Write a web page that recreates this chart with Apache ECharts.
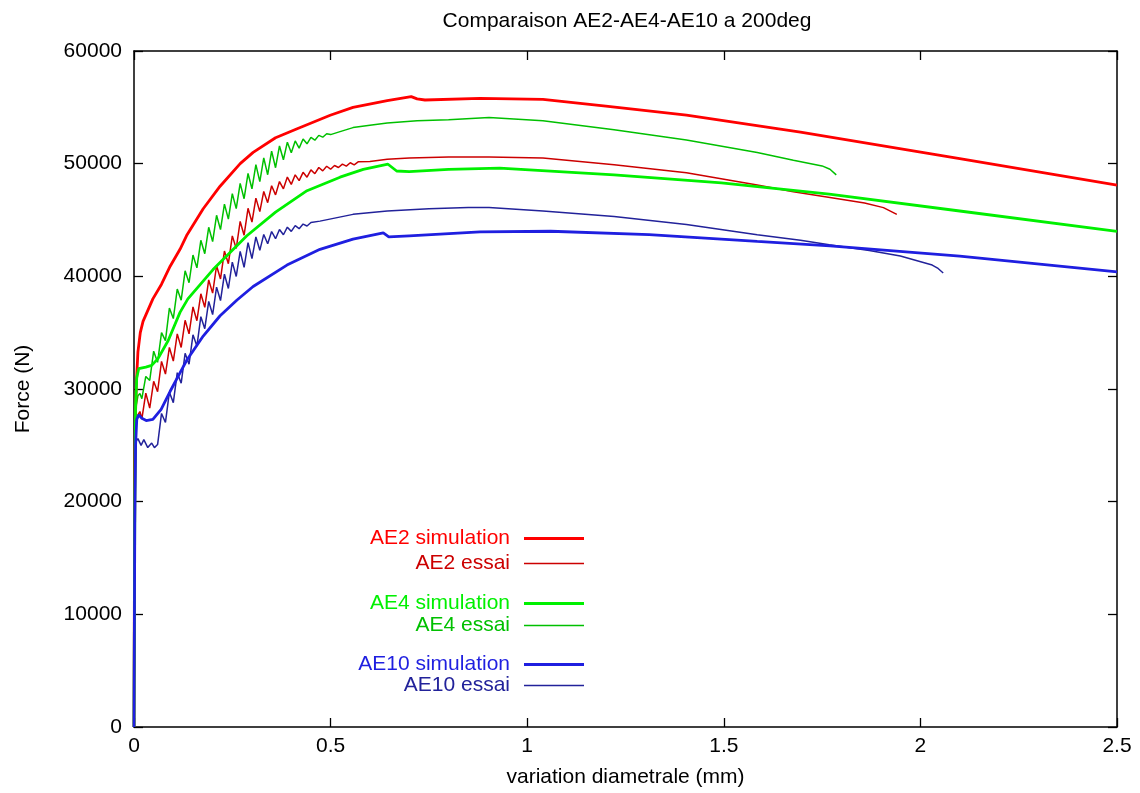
<!DOCTYPE html>
<html>
<head>
<meta charset="utf-8">
<script src="https://cdn.jsdelivr.net/npm/echarts@6/dist/echarts.min.js"></script>
<style>html,body{margin:0;padding:0;background:#fff;}#chart{width:1140px;height:793px;}</style>
</head>
<body>
<div id="chart"></div>
<script>
const titleText = 'Comparaison AE2-AE4-AE10 a 200deg';
const xName = 'variation diametrale (mm)';
const yName = 'Force (N)';
const seriesNames = ['AE2 simulation','AE2 essai','AE4 simulation','AE4 essai','AE10 simulation','AE10 essai'];
const seriesColors = ['#ff0000','#cc0000','#00f000','#00c000','#1f1fe0','#22229a'];

const ae2Sim = [[0,0],[0.001,12000],[0.002,22000],[0.004,28000],[0.006,30500],[0.01,33300],[0.016,35000],[0.023,36000],[0.048,38000],[0.07,39300],[0.092,40900],[0.117,42400],[0.135,43700],[0.176,46000],[0.219,48000],[0.27,50000],[0.303,51000],[0.36,52300],[0.415,53100],[0.499,54300],[0.557,55000],[0.644,55600],[0.705,55950],[0.72,55750],[0.74,55650],[0.88,55800],[1.04,55700],[1.2,55100],[1.405,54300],[1.695,52800],[2.1,50450],[2.5,48100]];

const ae2Essai = [[0,0],[0.001,6000],[0.002,14000],[0.003,22000],[0.004,26000],[0.006,27300],[0.01,27700],[0.015,28000],
[0.02,27340],[0.03,29630],[0.04,28310],[0.05,30680],[0.06,29760],[0.07,32450],[0.08,31330],[0.09,33690],[0.10,32480],[0.11,34890],[0.12,33690],[0.13,36100],[0.14,34890],[0.15,37280],[0.16,36060],[0.17,38450],[0.18,37250],[0.19,39680],[0.20,38510],[0.21,40940],[0.22,39770],[0.23,42240],[0.24,41120],[0.25,43590],[0.26,42470],[0.27,44870],[0.28,43650],[0.29,46040],[0.30,44820],[0.31,46940],[0.32,45740],[0.33,47540],[0.34,46540],[0.35,48040],[0.36,47230],[0.37,48410],[0.38,47770],[0.39,48810],[0.40,48160],[0.41,49010],[0.42,48490],[0.43,49230],[0.44,48800],[0.45,49450],[0.46,49110],[0.47,49660],[0.48,49360],[0.49,49770],[0.50,49510],[0.51,49840],[0.52,49660],[0.53,49960],[0.54,49780],[0.55,50080],[0.56,49890],[0.57,50160],
[0.60,50200],[0.644,50400],[0.70,50500],[0.80,50600],[0.903,50600],[1.04,50500],[1.221,49900],[1.405,49200],[1.585,48100],[1.677,47500],[1.77,47000],[1.858,46500],[1.906,46100],[1.94,45500]];

const ae4Sim = [[0,0],[0.001,10000],[0.002,20000],[0.004,28500],[0.007,31000],[0.012,31800],[0.03,31950],[0.045,32100],[0.061,32700],[0.087,34300],[0.117,36800],[0.137,38000],[0.201,40600],[0.287,43600],[0.36,45700],[0.44,47600],[0.524,48800],[0.583,49500],[0.646,49950],[0.668,49350],[0.70,49300],[0.80,49500],[0.93,49600],[1.221,49000],[1.494,48300],[1.768,47300],[2.1,45800],[2.5,44000]];

const ae4Essai = [[0,0],[0.001,7000],[0.002,15000],[0.003,23000],[0.004,27000],[0.006,28600],[0.01,29400],[0.015,29600],
[0.02,29140],[0.03,31110],[0.04,30760],[0.05,33360],[0.06,32370],[0.07,35010],[0.08,34300],[0.09,37180],[0.10,36250],[0.11,38870],[0.12,37880],[0.13,40490],[0.14,39430],[0.15,41890],[0.16,40750],[0.17,43200],[0.18,42010],[0.19,44350],[0.20,43080],[0.21,45420],[0.22,44150],[0.23,46410],[0.24,45080],[0.25,47340],[0.26,46010],[0.27,48250],[0.28,46890],[0.29,49130],[0.30,47770],[0.31,49910],[0.32,48410],[0.33,50520],[0.34,49020],[0.35,51110],[0.36,49640],[0.37,51570],[0.38,50350],[0.39,51910],[0.40,50960],[0.41,52020],[0.42,51380],[0.43,52190],[0.44,51760],[0.45,52330],[0.46,52080],[0.47,52510],[0.48,52350],[0.49,52660],[0.50,52580],
[0.52,52800],[0.557,53200],[0.60,53400],[0.644,53600],[0.72,53800],[0.80,53900],[0.903,54100],[1.04,53800],[1.221,53000],[1.405,52100],[1.585,51000],[1.677,50300],[1.75,49800],[1.77,49500],[1.786,49000]];

const ae10Sim = [[0,0],[0.001,9000],[0.002,18000],[0.004,25000],[0.007,27300],[0.012,27700],[0.02,27400],[0.031,27200],[0.048,27300],[0.069,28200],[0.092,29800],[0.135,32600],[0.176,34700],[0.219,36500],[0.262,37900],[0.303,39100],[0.389,41000],[0.473,42400],[0.557,43300],[0.634,43850],[0.648,43500],[0.70,43600],[0.88,43950],[1.06,44000],[1.31,43700],[1.585,43100],[1.77,42700],[2.1,41800],[2.5,40400]];

const ae10Essai = [[0,0],[0.001,6000],[0.002,13000],[0.003,20000],[0.004,24000],[0.006,25400],[0.01,25600],[0.018,25000],[0.025,25500],[0.035,24800],[0.045,25200],[0.052,24800],
[0.06,25070],[0.07,27830],[0.08,27030],[0.09,29720],[0.10,28790],[0.11,31450],[0.12,30510],[0.13,33170],[0.14,32200],[0.15,34810],[0.16,33810],[0.17,36420],[0.18,35350],[0.19,37780],[0.20,36610],[0.21,39040],[0.22,37850],[0.23,40190],[0.24,38920],[0.25,41260],[0.26,39990],[0.27,42210],[0.28,40800],[0.29,42990],[0.30,41580],[0.31,43500],[0.32,42310],[0.33,43720],[0.34,42890],[0.35,43980],[0.36,43340],[0.37,44160],[0.38,43690],[0.39,44360],[0.40,43990],[0.41,44500],[0.42,44230],[0.43,44640],[0.44,44470],[0.45,44780],
[0.473,44900],[0.557,45500],[0.644,45800],[0.75,46000],[0.85,46100],[0.903,46100],[1.04,45800],[1.221,45300],[1.405,44600],[1.585,43700],[1.695,43200],[1.768,42800],[1.87,42300],[1.949,41800],[2.03,41000],[2.045,40700],[2.058,40300]];

const xMin = 0, xMax = 2.5, xStep = 0.5;
const yMin = 0, yMax = 60000, yStep = 10000;

const seriesData = [ae2Sim, ae2Essai, ae4Sim, ae4Essai, ae10Sim, ae10Essai];
const isSim = [true,false,true,false,true,false];
const legendTops = [528, 553, 593, 615, 654, 675];

const FONT = '"Liberation Sans", Arial, sans-serif';
const FS = 21;
const chart = echarts.init(document.getElementById('chart'), null, {renderer:'canvas'});

function axisCommon() {
  return {
    axisLine:{show:true, onZero:false, lineStyle:{color:'#000', width:1.5}},
    axisTick:{show:true, inside:true, length:9, lineStyle:{color:'#000', width:1.3}},
    splitLine:{show:false}
  };
}

const legends = seriesNames.map((n,i)=>({
  data:[n], orient:'vertical', right: 556, top: legendTops[i], align:'right',
  icon:'rect', itemWidth:60, itemHeight: isSim[i] ? 3 : 1.5, padding:0,
  selectedMode:false,
  textStyle:{color: seriesColors[i], fontFamily: FONT, fontSize:FS, padding:[0,9,0,0]}
}));

const option = {
  animation:false,
  backgroundColor:'#fff',
  title:{text:titleText, left:622, top:6, textAlign:'center',
    textStyle:{fontFamily:FONT, fontSize:FS, fontWeight:'normal', color:'#000'}},
  legend: legends,
  grid:{left:134, right:23, top:51, bottom:64, containLabel:false},
  xAxis:[
    Object.assign({type:'value', min:xMin, max:xMax, interval:xStep, position:'bottom',
      name:xName, nameLocation:'middle', nameGap:40,
      nameTextStyle:{fontFamily:FONT, fontSize:FS, color:'#000'},
      axisLabel:{fontFamily:FONT, fontSize:FS, color:'#000', margin:9}}, axisCommon()),
    Object.assign({type:'value', min:xMin, max:xMax, interval:xStep, position:'top',
      axisLabel:{show:false}}, axisCommon())
  ],
  yAxis:[
    Object.assign({type:'value', min:yMin, max:yMax, interval:yStep, position:'left',
      name:yName, nameLocation:'middle', nameGap:100, nameRotate:90,
      nameTextStyle:{fontFamily:FONT, fontSize:FS, color:'#000'},
      axisLabel:{fontFamily:FONT, fontSize:FS, color:'#000', margin:12, formatter:(v)=>String(v)}}, axisCommon()),
    Object.assign({type:'value', min:yMin, max:yMax, interval:yStep, position:'right',
      axisLabel:{show:false}}, axisCommon())
  ],
  series: seriesNames.map((n,i)=>({
    name:n, type:'line', data:seriesData[i], xAxisIndex:0, yAxisIndex:0,
    showSymbol:false, symbol:'none', smooth:false,
    lineStyle:{color:seriesColors[i], width: isSim[i] ? 2.8 : 1.5},
    itemStyle:{color:seriesColors[i]},
    z: isSim[i] ? 3 : 2
  }))
};
chart.setOption(option);
</script>
</body>
</html>
